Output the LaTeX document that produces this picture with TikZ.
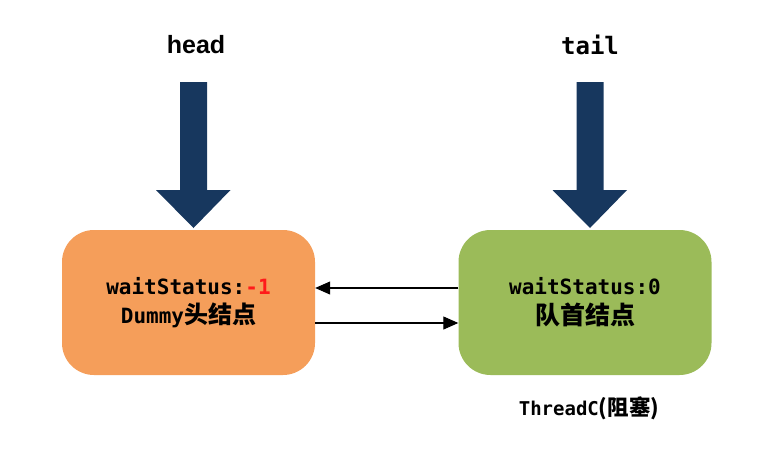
\documentclass[tikz,border=0pt]{standalone}
\usepackage{fontspec}
\setmainfont{Liberation Sans}
\newfontfamily\monof{DejaVu Sans Mono}
\newfontfamily\cjk{Noto Sans CJK SC}
\usetikzlibrary{arrows.meta}
\definecolor{boxorange}{HTML}{F59E5A}
\definecolor{boxgreen}{HTML}{9BBB59}
\definecolor{navy}{HTML}{17375E}
\definecolor{minusred}{HTML}{FF1A1A}
\begin{document}
\begin{tikzpicture}[x=1pt,y=-1pt,
  nodebox/.style={rounded corners=32pt, minimum width=253pt, minimum height=145pt, inner sep=0pt, align=center, anchor=center},
  link/.style={line width=1.1pt, -{Triangle[length=15pt,width=13pt]}},
  ptr/.style={fill=navy},
]
\useasboundingbox (0,0) rectangle (768,450);
% boxes
\node[nodebox, fill=boxorange] (o) at (188.5,302.5) {%
  {\monof\bfseries\fontsize{21}{32}\selectfont waitStatus:\textcolor{minusred}{-1}}\\[7pt]
  {\monof\bfseries\fontsize{21}{32}\selectfont Dummy}{\cjk\bfseries\fontsize{24}{32}\selectfont 头结点}};
\node[nodebox, fill=boxgreen] (g) at (585,302.5) {%
  {\monof\bfseries\fontsize{21}{32}\selectfont waitStatus:0}\\[7pt]
  {\cjk\bfseries\fontsize{25}{32}\selectfont 队首结点}};
% labels
\node (head) at (196,45) {\bfseries\fontsize{25}{30}\selectfont head};
\node (tail) at (590,45) {\monof\bfseries\fontsize{24}{30}\selectfont tail};
\node (thr) at (589,408) {\monof\bfseries\fontsize{19}{24}\selectfont ThreadC{\cjk\bfseries\fontsize{21.5}{24}\selectfont (阻塞)}};
% block arrows
\coordinate (ha) at (193.5,228);
\coordinate (ta) at (590,228);
\fill[ptr] (ha) ++(-13.5,-146) -- ++(27,0) -- ++(0,108) -- ++(23.5,0) -- (ha) -- ++(-37.5,-38) -- ++(24,0) -- cycle;
\fill[ptr] (ta) ++(-13.5,-146) -- ++(27,0) -- ++(0,108) -- ++(23.5,0) -- (ta) -- ++(-37.5,-38) -- ++(24,0) -- cycle;
% links
\draw[link] ([yshift=14.5pt]g.west) -- ([yshift=14.5pt]o.east);
\draw[link] ([yshift=-20.5pt]o.east) -- ([yshift=-20.5pt]g.west);
\end{tikzpicture}
\end{document}
